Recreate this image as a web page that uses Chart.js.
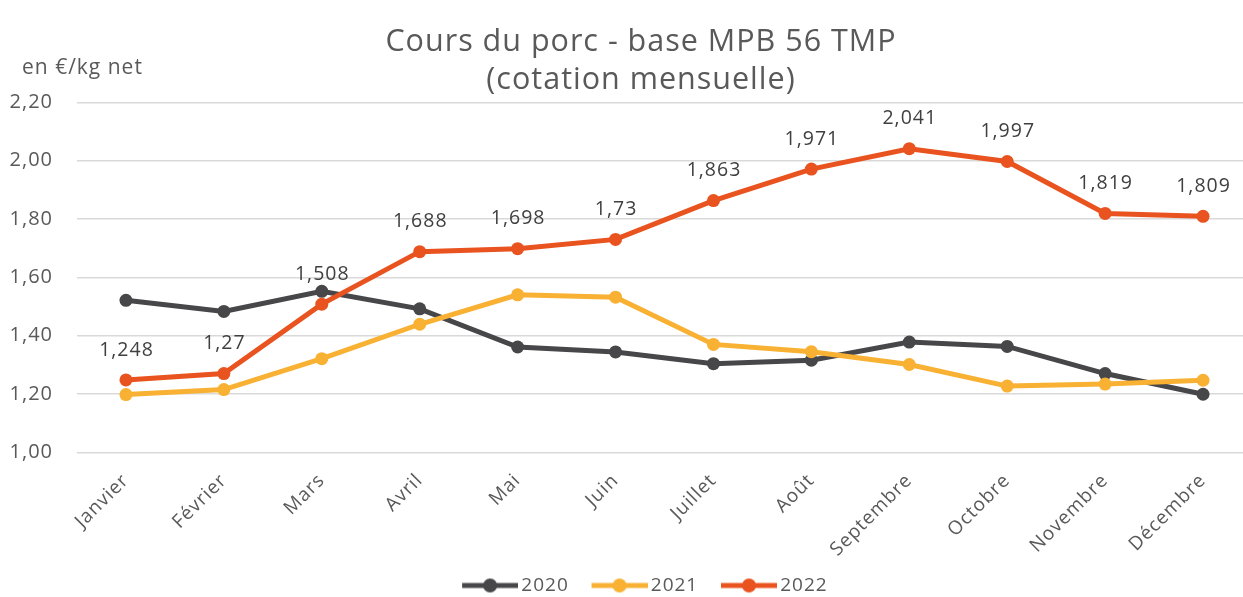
<!DOCTYPE html>
<html>
<head>
<meta charset="utf-8">
<script src="https://cdn.jsdelivr.net/npm/chart.js@4/dist/chart.umd.min.js"></script>
<style>
  html, body { margin: 0; padding: 0; background: #fff; overflow: hidden; }
  #wrap { width: 1282px; height: 605px; }
</style>
</head>
<body>
<div id="wrap"><canvas id="c" width="1282" height="605"></canvas></div>
<script>
const categories = ['Janvier','Février','Mars','Avril','Mai','Juin','Juillet','Août','Septembre','Octobre','Novembre','Décembre'];
const seriesNames = ['2020','2021','2022'];
const values2020 = [1.521,1.483,1.552,1.492,1.361,1.344,1.304,1.316,1.378,1.363,1.270,1.199];
const values2021 = [1.198,1.215,1.321,1.439,1.540,1.532,1.370,1.345,1.301,1.227,1.234,1.247];
const values2022 = [1.248,1.27,1.508,1.688,1.698,1.73,1.863,1.971,2.041,1.997,1.819,1.809];
const titleLines = ['Cours du porc - base MPB 56 TMP','(cotation mensuelle)'];
const unitLabel = 'en €/kg net';

const colors = ['#474749','#F8B133','#E9531F'];
const FONT = "'Open Sans', sans-serif";
const TEXT = '#595959';
const SPACING = '1px';

function legendMarker(color) {
  const cv = document.createElement('canvas');
  cv.width = 70; cv.height = 16;
  const g = cv.getContext('2d');
  g.strokeStyle = color; g.lineWidth = 5; g.lineCap = 'butt';
  g.beginPath(); g.moveTo(14, 8); g.lineTo(70, 8); g.stroke();
  g.fillStyle = color;
  g.beginPath(); g.arc(42, 8, 7, 0, Math.PI * 2); g.fill();
  return cv;
}

const fmt = v => String(v).replace('.', ',');

const spacing = {
  id: 'spacing',
  beforeUpdate(chart) { chart.ctx.letterSpacing = SPACING; },
  beforeLayout(chart) { chart.ctx.letterSpacing = SPACING; },
  beforeDraw(chart) { chart.ctx.letterSpacing = SPACING; }
};

const dataLabels = {
  id: 'dataLabels',
  afterDatasetsDraw(chart) {
    const ctx = chart.ctx;
    const meta = chart.getDatasetMeta(2);
    const ds = chart.data.datasets[2];
    ctx.save();
    ctx.font = '19.5px ' + FONT;
    ctx.fillStyle = '#404040';
    ctx.textAlign = 'center';
    ctx.textBaseline = 'middle';
    meta.data.forEach((pt, i) => {
      ctx.fillText(fmt(ds.data[i]), pt.x + 0.5, pt.y - 30);
    });
    ctx.restore();
  }
};

const unitText = {
  id: 'unitText',
  afterDraw(chart) {
    const ctx = chart.ctx;
    ctx.save();
    ctx.font = '21px ' + FONT;
    ctx.fillStyle = TEXT;
    ctx.textAlign = 'left';
    ctx.textBaseline = 'middle';
    ctx.fillText(unitLabel, 22, 68);
    ctx.restore();
  }
};

const allValues = [values2020, values2021, values2022];
const datasets = seriesNames.map((name, i) => ({
  label: name,
  data: allValues[i],
  borderColor: colors[i],
  backgroundColor: colors[i],
  borderWidth: 5,
  pointRadius: 6.5,
  pointHoverRadius: 6.5,
  pointBorderWidth: 0,
  pointBackgroundColor: colors[i],
  pointStyle: 'circle',
  tension: 0,
  order: 3 - i,
  yAxisID: 'y',
  legendMarker: legendMarker(colors[i])
}));

new Chart(document.getElementById('c'), {
  type: 'line',
  data: { labels: categories, datasets },
  options: {
    responsive: false,
    animation: false,
    devicePixelRatio: 1,
    layout: { padding: 0 },
    plugins: {
      tooltip: { enabled: false },
      title: {
        display: true,
        text: titleLines,
        color: TEXT,
        font: { family: FONT, size: 30.5, weight: 'normal', lineHeight: 1.246 },
        padding: { top: 23, bottom: 3.3 }
      },
      legend: {
        position: 'bottom',
        labels: {
          usePointStyle: true,
          pointStyleWidth: 57.5,
          color: TEXT,
          font: { family: FONT, size: 19 },
          padding: 15,
          sort: (a, b) => a.datasetIndex - b.datasetIndex,
          generateLabels(chart) {
            return chart.data.datasets.map((d, i) => ({
              text: d.label,
              datasetIndex: i,
              pointStyle: d.legendMarker,
              fillStyle: d.borderColor,
              strokeStyle: d.borderColor,
              lineWidth: 0,
              fontColor: TEXT,
              hidden: false
            }));
          }
        }
      }
    },
    scales: {
      x: {
        offset: true,
        grid: { display: false },
        border: { display: false },
        ticks: {
          color: TEXT,
          font: { family: FONT, size: 19 },
          maxRotation: 45,
          minRotation: 45,
          padding: 9,
          autoSkip: false
        },
        afterFit(scale) { scale.height = 108.7; }
      },
      y: {
        position: 'left',
        min: 1.0,
        max: 2.2,
        grid: { color: '#D9D9D9', lineWidth: 1.5, drawTicks: false },
        border: { display: false },
        ticks: {
          stepSize: 0.2,
          color: TEXT,
          font: { family: FONT, size: 20 },
          padding: 24,
          callback: v => v.toFixed(2).replace('.', ',')
        },
        afterFit(scale) { scale.width = 77; }
      },
      yRight: {
        position: 'right',
        min: 0,
        max: 1,
        grid: { display: false },
        border: { display: false },
        ticks: { display: false },
        afterFit(scale) { scale.width = 30; }
      }
    }
  },
  plugins: [spacing, dataLabels, unitText]
});
</script>
</body>
</html>
